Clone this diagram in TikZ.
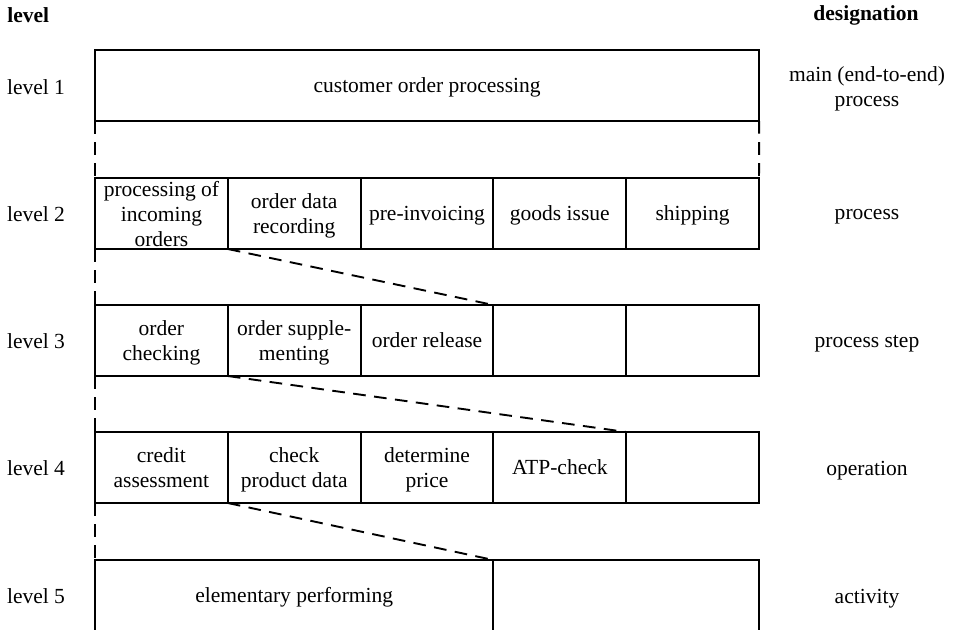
\documentclass[tikz,border=0pt]{standalone}
\usepackage{fontspec}
\setmainfont{Liberation Serif}
\tikzset{
  cell/.style={draw,line width=1.35pt,minimum width=3.32cm,minimum height=1.775cm,
    inner sep=0pt,outer sep=0pt,anchor=north west,align=center,text depth=0pt,
    font=\fontsize{15.3}{17.8}\selectfont},
  lbl/.style={align=center,inner sep=0pt,text depth=0pt,font=\fontsize{15.3}{17.8}\selectfont},
  head/.style={inner sep=0pt,font=\fontsize{15.3}{17.8}\selectfont\bfseries},
  link/.style={line width=1.35pt,dash pattern=on 9pt off 6pt}
}
\begin{document}
\begin{tikzpicture}[x=0.025cm,y=-0.025cm]
        \useasboundingbox (0,0) rectangle (956,630);
        \clip (0,0) rectangle (956,630);
        % headings
        \node[head,anchor=west] (hlevel) at (7,15)   {level};
        \node[head]             (hdes)   at (866,15) {designation};

        % level 1
        \node[cell,minimum width=16.6cm] (L1) at (95,50) {customer order processing};

        % level 2
        \node[cell] (L2a) at (95,178)    {processing of\\incoming\\orders};
        \node[cell] (L2b) at (227.8,178) {order data\\recording};
        \node[cell] (L2c) at (360.6,178) {pre-invoicing};
        \node[cell] (L2d) at (493.4,178) {goods issue};
        \node[cell] (L2e) at (626.2,178) {shipping};

        % level 3
        \node[cell] (L3a) at (95,305)    {order\\checking};
        \node[cell] (L3b) at (227.8,305) {order supple-\\menting};
        \node[cell] (L3c) at (360.6,305) {order release};
        \node[cell] (L3d) at (493.4,305) {};
        \node[cell] (L3e) at (626.2,305) {};

        % level 4
        \node[cell] (L4a) at (95,432)    {credit\\assessment};
        \node[cell] (L4b) at (227.8,432) {check\\product data};
        \node[cell] (L4c) at (360.6,432) {determine\\price};
        \node[cell] (L4d) at (493.4,432) {ATP-check};
        \node[cell] (L4e) at (626.2,432) {};

        % level 5
        \node[cell,minimum width=9.96cm,minimum height=2.2cm,text depth=0.45cm] (L5a) at (95,560) {elementary performing};
        \node[cell,minimum width=6.64cm,minimum height=2.2cm] (L5b) at (493.4,560) {};

        % level names
        \node[lbl] (lev1) at (36,87)  {level 1};
        \node[lbl] (lev2) at (36,214) {level 2};
        \node[lbl] (lev3) at (36,341) {level 3};
        \node[lbl] (lev4) at (36,468) {level 4};
        \node[lbl] (lev5) at (36,596) {level 5};

        % designations
        \node[lbl] (des1) at (867,87)  {main (end-to-end)\\process};
        \node[lbl] (des2) at (867,214) {process};
        \node[lbl] (des3) at (867,341) {process step};
        \node[lbl] (des4) at (867,468) {operation};
        \node[lbl] (des5) at (867,596) {activity};

        % dashed links
        \draw[link] (L1.south west)  -- (L2a.north west);
        \draw[link] (L1.south east)  -- (L2e.north east);
        \draw[link] (L2a.south west) -- (L3a.north west);
        \draw[link] (L3a.south west) -- (L4a.north west);
        \draw[link] (L4a.south west) -- (L5a.north west);
        \draw[link] (L2a.south east) -- (L3d.north west);
        \draw[link] (L3a.south east) -- (L4e.north west);
        \draw[link] (L4a.south east) -- (L5b.north west);
\end{tikzpicture}
\end{document}
